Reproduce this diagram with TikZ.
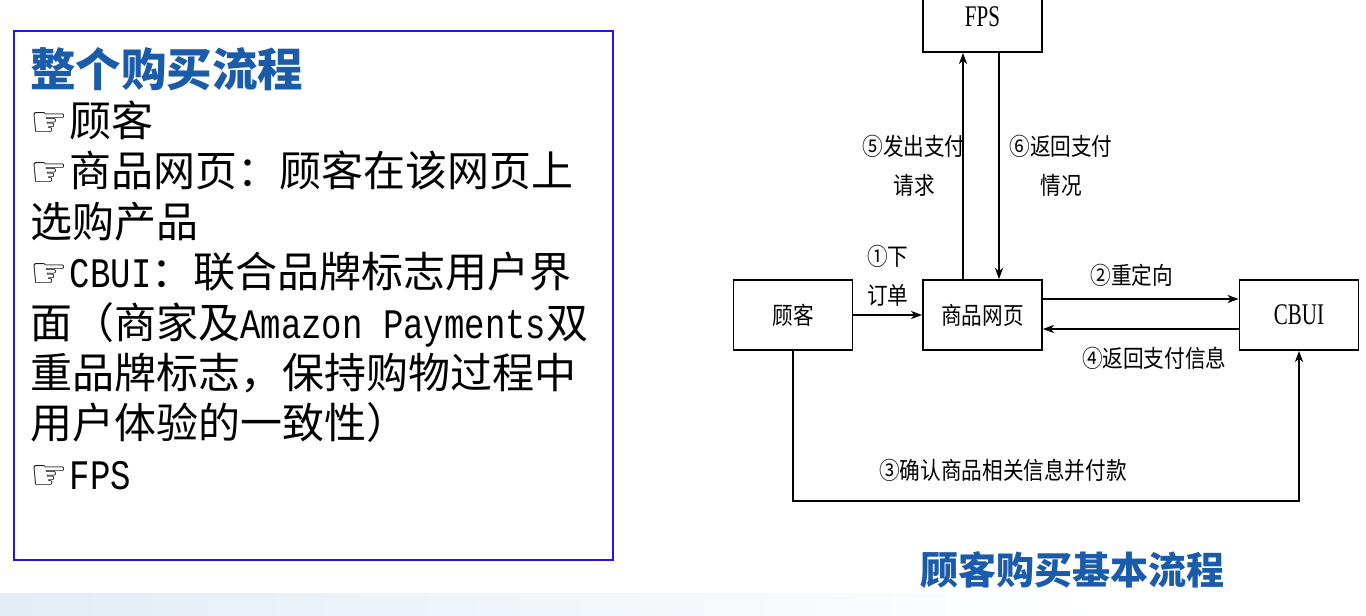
\documentclass[tikz,border=0pt]{standalone}
\usepackage{fontspec}
\setmainfont{Noto Sans CJK SC}
\newfontfamily\cjkfont{Noto Sans CJK SC}
\newfontfamily\diagfont{Noto Sans CJK SC}[FakeStretch=0.86]
\newfontfamily\latinfont{Liberation Serif}[FakeStretch=0.7]
\newfontfamily\monofont{Liberation Mono}[FakeStretch=0.81]
\newfontfamily\symfont{DejaVu Sans}
\usepackage{tikz}
\usetikzlibrary{arrows.meta, positioning}

\definecolor{titleblue}{RGB}{26,92,170}
\definecolor{framelila}{RGB}{42,18,230}
\definecolor{bandblue}{RGB}{226,237,246}
\newcommand{\hand}{{\symfont ☞}\kern2pt}
\newcommand{\lat}[1]{{\monofont #1}}

\begin{document}
\begin{tikzpicture} [x=1pt, y=-1pt, node distance = 190pt, on grid,
        box/.style = {draw, line width=1.8pt, minimum width=119pt, minimum height=70pt,
                      inner sep=0pt, font=\diagfont\fontsize{24pt}{28pt}\selectfont},
        arr/.style = {-{Stealth[length=11pt, width=8pt, inset=3pt]}, line width=1.6pt},
        lbl/.style = {inner sep=0pt, align=center, font=\diagfont\fontsize{24pt}{39pt}\selectfont},
        bodyline/.style = {anchor=base west, inner sep=0pt, font=\cjkfont\fontsize{42pt}{50pt}\selectfont}]
        \useasboundingbox (0,0) rectangle (1366,616);
        \fill [white] (0,0) rectangle (1366,616);
        \shade [left color=bandblue, right color=white] (0,593) rectangle (1100,616);

        % left panel
        \draw [framelila, line width=2pt] (14,31) rectangle (613,560);
        \node (title) [bodyline, text=titleblue, font=\cjkfont\bfseries\fontsize{45.5pt}{50pt}\selectfont] at (30,86) {整个购买流程};
        \foreach \txt [count=\i] in {{\hand 顾客}, {\hand 商品网页：顾客在该网页上}, {选购产品},
                {\hand\lat{CBUI}：联合品牌标志用户界}, {面（商家及\lat{Amazon Payments}双},
                {重品牌标志，保持购物过程中}, {用户体验的一致性）}, {\hand\lat{FPS}}}
            \node (line\i) [bodyline] at (30, 86+50.4*\i) {\txt};

        % flow diagram
        \node (web) [box] at (982.5,315) {商品网页};
        \node (fps) [box, above = 298pt of web] {\latinfont\fontsize{30pt}{30pt}\selectfont FPS};
        \node (cust) [box, left = 189.5pt of web] {顾客};
        \node (cbui) [box, right = 316.5pt of web] {\latinfont\fontsize{30pt}{30pt}\selectfont CBUI};

        \draw [arr] (cust) -- node [lbl, yshift=39pt] {①下\\订单} (web);
        \draw [arr] ([yshift=16pt]web.east) -- node [lbl, xshift=-9pt, yshift=24pt] {②重定向} ([yshift=16pt]cbui.west);
        \draw [arr] ([yshift=-14pt]cbui.west) -- node [lbl, xshift=13.5pt, yshift=-29pt] {④返回支付信息} ([yshift=-14pt]web.east);
        \draw [arr] (cust.south) -- ++(0pt,-150pt) -| node [lbl, pos=0.25, xshift=-43pt, yshift=31pt] {③确认商品相关信息并付款} (cbui.south);
        \draw [arr] ([xshift=-19.5pt]web.north) -- node [lbl, xshift=-49pt] {⑤发出支付\\请求} ([xshift=-19.5pt]fps.south);
        \draw [arr] ([xshift=16.5pt]fps.south) -- node [lbl, xshift=62pt] {⑥返回支付\\情况} ([xshift=16.5pt]web.north);

        \node (caption) [text=titleblue, font=\cjkfont\bfseries\fontsize{38pt}{40pt}\selectfont] at (1072,570) {顾客购买基本流程};
    \end{tikzpicture}
\end{document}
